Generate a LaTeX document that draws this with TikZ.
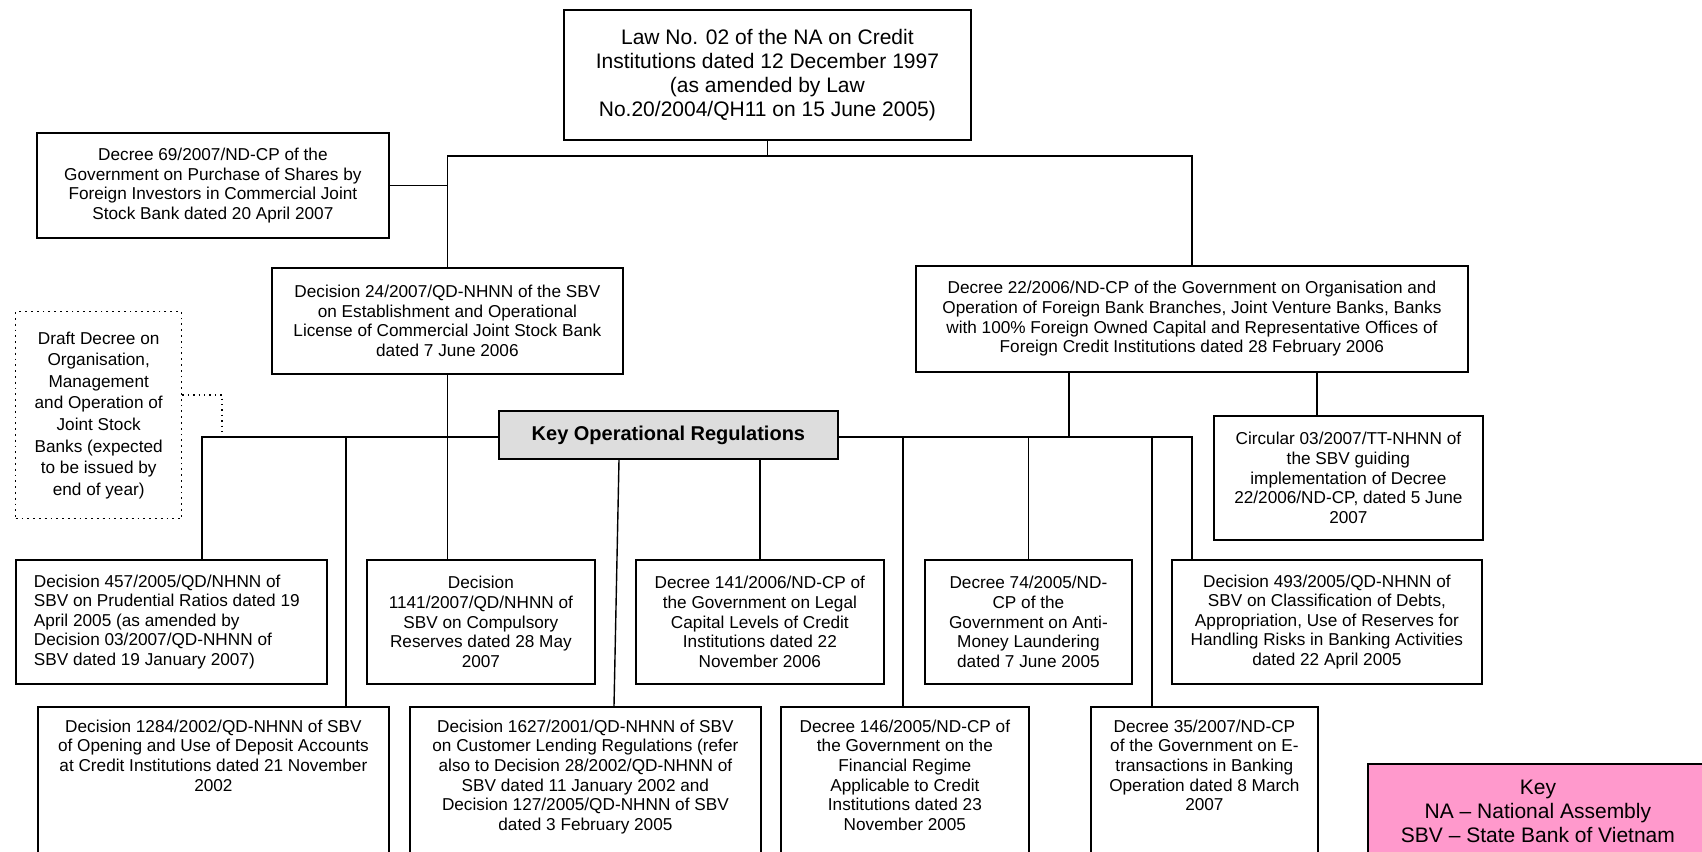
\documentclass[tikz,border=0pt]{standalone}
\usepackage{fontspec}
\setmainfont{Liberation Sans}
\newlength\upx
\setlength\upx{0.5pt}
\newcommand\bx[4]{\parbox[c][#2\upx][#3]{#1\upx}{\centering #4\par}}
\newcommand\bxl[5]{\parbox[c][#2\upx][#3]{#1\upx}{\raggedright\leftskip=#4\upx #5\par}}
\newcommand\smfont{\fontsize{8.6}{9.8}\selectfont}
\newcommand\lgfont{\fontsize{10.5}{12}\selectfont}
\definecolor{korgray}{HTML}{DDDDDD}
\definecolor{keypink}{HTML}{FF99CC}
\tikzset{
  regbox/.style={draw, line width=0.9pt, inner sep=0pt, anchor=north west, font=\smfont},
  ln/.style={line width=0.7pt},
}
\begin{document}
\begin{tikzpicture}[x=0.5pt,y=-0.5pt]
\useasboundingbox (0,0) rectangle (1702,851);
% top level
\node[regbox,font=\lgfont] (law) at (563,9) {\bx{407}{130}{c}{Law No. 02 of the NA on Credit\\Institutions dated 12 December 1997\\(as amended by Law\\No.20/2004/QH11 on 15 June 2005)}};
\node[regbox] (d69) at (36,132) {\bx{352}{105}{c}{Decree 69/2007/ND-CP of the\\Government on Purchase of Shares by\\Foreign Investors in Commercial Joint\\Stock Bank dated 20 April 2007}};
\node[regbox] (d24) at (271,267) {\bx{351}{106}{c}{Decision 24/2007/QD-NHNN of the SBV\\on Establishment and Operational\\License of Commercial Joint Stock Bank\\dated 7 June 2006}};
\node[regbox] (d22) at (915,265) {\bx{552}{106}{c}{Decree 22/2006/ND-CP of the Government on Organisation and\\Operation of Foreign Bank Branches, Joint Venture Banks, Banks\\with 100\% Foreign Owned Capital and Representative Offices of\\Foreign Credit Institutions dated 28 February 2006}};
\node[regbox] (circ) at (1213,415) {\bx{269}{124}{c}{Circular 03/2007/TT-NHNN of\\the SBV guiding\\implementation of Decree\\22/2006/ND-CP, dated 5 June\\2007}};
\node[regbox, dotted, line width=0.7pt, font=\fontsize{8.6}{10.8}\selectfont] (draft) at (15,311) {\bx{166}{207}{c}{Draft Decree on\\Organisation,\\Management\\and Operation of\\Joint Stock\\Banks (expected\\to be issued by\\end of year)}};
\node[regbox, fill=korgray, font=\bfseries\fontsize{10}{12}\selectfont] (kor) at (498,410) {\bx{339}{48}{c}{Key Operational Regulations}};
% middle row
\node[regbox] (d457) at (15,559) {\bxl{311}{124}{c}{18}{Decision 457/2005/QD/NHNN of\\SBV on Prudential Ratios dated 19\\April 2005 (as amended by\\Decision 03/2007/QD-NHNN of\\SBV dated 19 January 2007)}};
\node[regbox] (d1141) at (366,559) {\bx{228}{124}{c}{Decision\\1141/2007/QD/NHNN of\\SBV on Compulsory\\Reserves dated 28 May\\2007}};
\node[regbox] (d141) at (635,559) {\bx{248}{124}{c}{Decree 141/2006/ND-CP of\\the Government on Legal\\Capital Levels of Credit\\Institutions dated 22\\November 2006}};
\node[regbox] (d74) at (924,559) {\bx{207}{124}{c}{Decree 74/2005/ND-\\CP of the\\Government on Anti-\\Money Laundering\\dated 7 June 2005}};
\node[regbox] (d493) at (1171,559) {\bx{310}{124}{c}{Decision 493/2005/QD-NHNN of\\SBV on Classification of Debts,\\Appropriation, Use of Reserves for\\Handling Risks in Banking Activities\\dated 22 April 2005}};
% bottom row
\node[regbox] (d1284) at (37,706) {\bx{351}{170}{t}{\vspace*{13\upx}Decision 1284/2002/QD-NHNN of SBV\\of Opening and Use of Deposit Accounts\\at Credit Institutions dated 21 November\\2002}};
\node[regbox] (d1627) at (409,706) {\bx{351}{170}{t}{\vspace*{13\upx}Decision 1627/2001/QD-NHNN of SBV\\on Customer Lending Regulations (refer\\also to Decision 28/2002/QD-NHNN of\\SBV dated 11 January 2002 and\\Decision 127/2005/QD-NHNN of SBV\\dated 3 February 2005}};
\node[regbox] (d146) at (780,706) {\bx{248}{170}{t}{\vspace*{13\upx}Decree 146/2005/ND-CP of\\the Government on the\\Financial Regime\\Applicable to Credit\\Institutions dated 23\\November 2005}};
\node[regbox] (d35) at (1090,706) {\bx{227}{170}{t}{\vspace*{13\upx}Decree 35/2007/ND-CP\\of the Government on E-\\transactions in Banking\\Operation dated 8 March\\2007}};
\node[regbox, fill=keypink, font=\lgfont] (key) at (1367,763) {\bx{340}{120}{t}{\vspace*{16\upx}Key\\NA – National Assembly\\SBV – State Bank of Vietnam}};
% connectors
\coordinate (busA) at (0,156);
\coordinate (busB) at (0,437);
\coordinate (xa) at (202,0);
\coordinate (xb) at (346,0);
\coordinate (xdot) at (222,395);
\coordinate (xs1) at (619,0);
\coordinate (xs2) at (614,0);
\coordinate (xc) at (760,0);
\coordinate (xd) at (903,0);
\coordinate (xe) at (1069,0);
\coordinate (xf) at (1152,0);
\coordinate (xg) at (1192,0);
\coordinate (xh) at (1317,0);
\draw[ln] (law.south) -- (law.south |- busA);
\draw[ln] (d24.north) -- (d24.north |- busA) -- (d22.north |- busA) -- (d22.north);
\draw[ln] (d69.east) -- (d69.east -| d24.north);
\draw[ln] (d24.south) -- (d24.south |- d1141.north);
\draw[ln] (kor.west |- busB) -- (xa |- busB) -- (xa |- d457.north);
\draw[ln] (xb |- busB) -- (xb |- d1284.north);
\draw[ln, dotted] (draft.east |- xdot) -- (xdot) -- (xdot |- busB);
\draw[ln] (kor.south -| xs1) -- (d1627.north -| xs2);
\draw[ln] (kor.south -| xc) -- (d141.north -| xc);
\draw[ln] (kor.east |- busB) -- (xg |- busB) -- (xg |- d493.north);
\draw[ln] (xd |- busB) -- (xd |- d146.north);
\draw[ln] (d74.north |- busB) -- (d74.north);
\draw[ln] (xf |- busB) -- (xf |- d35.north);
\draw[ln] (d22.south -| xe) -- (xe |- busB);
\draw[ln] (d22.south -| xh) -- (circ.north -| xh);
\end{tikzpicture}
\end{document}
